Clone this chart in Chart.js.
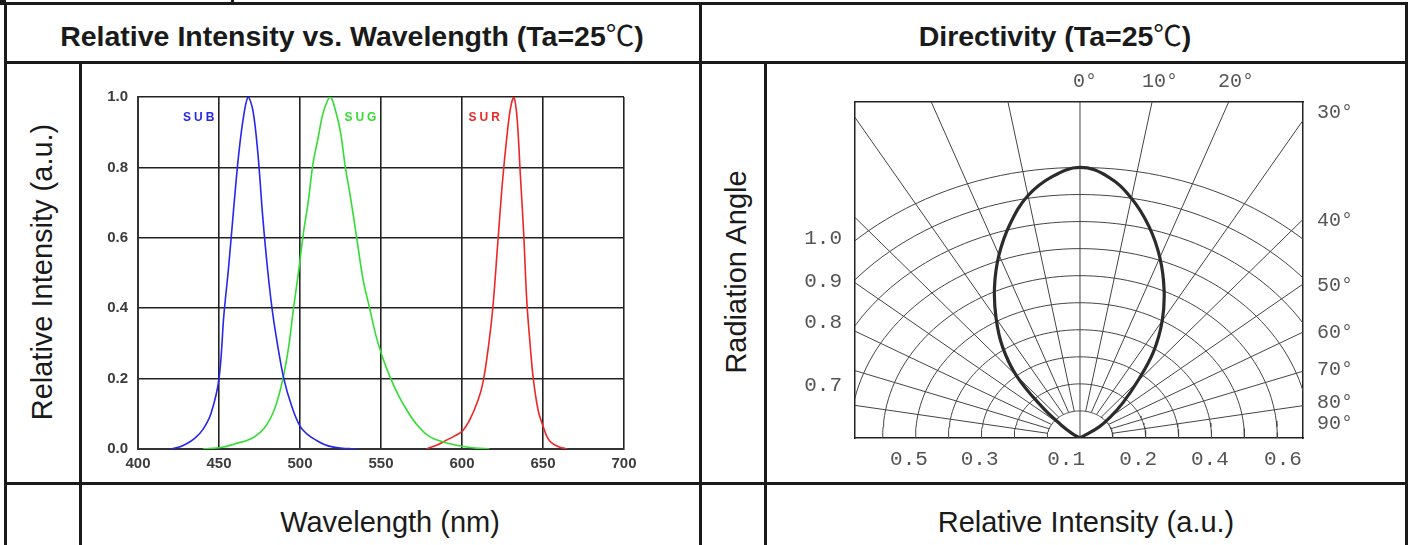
<!DOCTYPE html>
<html lang="en">
<head>
<meta charset="UTF-8">
<title>LED Optical Characteristics</title>
<script src="https://cdn.jsdelivr.net/npm/chart.js"></script>
<style>
  body { margin: 0; width: 1413px; height: 545px; background: #fff; position: relative; overflow: hidden;
         font-family: "Liberation Sans", Arial, "Noto Sans CJK SC", sans-serif; color: #1a1a1a; }
  .line { position: absolute; background: #1a1a1a; }
  .txt { position: absolute; white-space: nowrap; transform: translate(-50%, -50%); }
  .title { font-weight: bold; font-size: 28.5px; }
  .title span { font-weight: normal; }
  .lab { font-size: 29px; }
  .rot { transform: translate(-50%, -50%) rotate(-90deg); }
  canvas { position: absolute; }
</style>
</head>
<body>
    <!-- table frame -->
    <div class="line" style="left:0;top:0;width:6px;height:5px"></div>
    <div class="line" style="left:231px;top:0;width:3px;height:4px"></div>
    <div class="line" style="left:4px;top:2px;width:1404px;height:3px"></div>
    <div class="line" style="left:4px;top:2px;width:3px;height:543px"></div>
    <div class="line" style="left:1405px;top:2px;width:3px;height:543px"></div>
    <div class="line" style="left:4px;top:61px;width:1404px;height:3px"></div>
    <div class="line" style="left:699px;top:2px;width:3px;height:543px"></div>
    <div class="line" style="left:4px;top:482px;width:1404px;height:3px"></div>
    <div class="line" style="left:79px;top:62px;width:3px;height:483px"></div>
    <div class="line" style="left:764px;top:62px;width:3px;height:483px"></div>

    <div class="txt title" style="left:352px;top:33px">Relative Intensity vs. Wavelength (Ta=25<span>℃</span>)</div>
    <div class="txt title" style="left:1055px;top:33px">Directivity (Ta=25<span>℃</span>)</div>
    <div class="txt lab rot" style="left:42px;top:272px">Relative Intensity (a.u.)</div>
    <div class="txt lab rot" style="left:736px;top:272px">Radiation Angle</div>
    <div class="txt lab" style="left:390px;top:522px">Wavelength (nm)</div>
    <div class="txt lab" style="left:1086px;top:522px">Relative Intensity (a.u.)</div>

    <canvas id="spectrumChart" width="616" height="418" style="left:82px;top:64px"></canvas>
    <canvas id="directivityChart" width="638" height="418" style="left:767px;top:64px"></canvas>

<script>
// --- espectro (esquerda) ---
const wavelengthTicks = [400, 450, 500, 550, 600, 650, 700];
const intensityTicks = [0, 0.2, 0.4, 0.6, 0.8, 1.0];
const intensityTickLabels = ['0.0', '0.2', '0.4', '0.6', '0.8', '1.0'];

const subWavelength = [420, 425, 430, 435, 440, 445, 450, 453, 456, 459, 462, 465, 468, 471, 474, 477, 480, 483, 486, 490, 495, 500, 505, 510, 515, 520, 525, 530, 536];
const subIntensity  = [0, 0.005, 0.015, 0.03, 0.055, 0.1, 0.2, 0.38, 0.52, 0.68, 0.83, 0.94, 1.0, 0.96, 0.84, 0.66, 0.51, 0.39, 0.3, 0.2, 0.12, 0.065, 0.04, 0.025, 0.013, 0.006, 0.003, 0.001, 0];

const sugWavelength = [440, 452, 460, 470, 478, 484, 489, 493, 496, 499, 502, 505, 508, 511, 514, 517, 519, 522, 525, 528, 531, 535, 539, 543, 547, 551, 556, 561, 566, 572, 580, 590, 600, 608, 617];
const sugIntensity  = [0, 0.005, 0.015, 0.03, 0.06, 0.11, 0.19, 0.29, 0.4, 0.5, 0.61, 0.7, 0.81, 0.88, 0.95, 0.99, 1.0, 0.96, 0.9, 0.8, 0.72, 0.6, 0.48, 0.4, 0.32, 0.26, 0.2, 0.15, 0.11, 0.07, 0.035, 0.018, 0.008, 0.003, 0];

const surWavelength = [578, 585, 590, 595, 600, 605, 610, 613, 616, 619, 622, 625, 628, 630, 632, 634, 636, 638, 640, 642, 644, 647, 650, 653, 656, 660, 665];
const surIntensity  = [0, 0.012, 0.024, 0.036, 0.05, 0.085, 0.14, 0.19, 0.28, 0.4, 0.58, 0.76, 0.9, 0.97, 1.0, 0.94, 0.78, 0.62, 0.42, 0.3, 0.2, 0.11, 0.065, 0.03, 0.015, 0.006, 0];

const seriesNames  = ['SUB', 'SUG', 'SUR'];
const seriesColors = ['#2626ee', '#33dd33', '#ee2626'];

// --- diretividade (direita) ---
const beamAngle     = [-60, -55, -50, -45, -40, -35, -30, -25, -20, -15, -10, -5, 0, 5, 10, 15, 20, 25, 30, 35, 40, 45, 50, 55, 60];
const beamIntensity = [0, 0.03, 0.075, 0.165, 0.3, 0.41, 0.51, 0.615, 0.72, 0.82, 0.91, 0.97, 1.0, 0.97, 0.9, 0.81, 0.71, 0.605, 0.5, 0.39, 0.27, 0.185, 0.12, 0.07, 0];
const ringRadii   = [1, 2, 3, 4, 5, 6, 7, 8, 9, 10];
const spokeAngles = [-80, -70, -60, -50, -40, -30, -20, -10, 0, 10, 20, 30, 40, 50, 60, 70, 80];

const bottomTickPos    = [-5.2, -3.05, -0.42, 1.77, 3.95, 6.17];
const bottomTickLabels = ['0.5', '0.3', '0.1', '0.2', '0.4', '0.6'];
const topTickPos       = [0.15, 2.43, 4.74];
const topTickLabels    = ['0°', '10°', '20°'];
const leftTickPos      = [7.36, 5.77, 4.29, 1.95];
const leftTickLabels   = ['1.0', '0.9', '0.8', '0.7'];
const rightTickPos     = [12.02, 8.02, 5.62, 3.91, 2.51, 1.32, 0.54];
const rightTickLabels  = ['30°', '40°', '50°', '60°', '70°', '80°', '90°'];

function pairs(xs, ys) {
    return xs.map((v, i) => ({ x: v, y: ys[i] }));
}

function fixedTicks(values) {
    return scale => { scale.ticks = values.map(v => ({ value: v })); };
}

// nomes das curvas (SUB / SUG / SUR)
const seriesLabelPlugin = {
    id: 'seriesLabels',
    afterDatasetsDraw(chart) {
        const { ctx, scales: { x, y } } = chart;
        const at = [449, 549, 604];
        const align = ['right', 'right', 'left'];
        ctx.save();
        ctx.font = 'bold 12px "Liberation Sans", Arial, sans-serif';
        if ('letterSpacing' in ctx) ctx.letterSpacing = '3px';
        ctx.textBaseline = 'middle';
        seriesNames.forEach((name, i) => {
            ctx.fillStyle = seriesColors[i];
            ctx.textAlign = align[i];
            ctx.fillText(name, x.getPixelForValue(at[i]), y.getPixelForValue(0.94));
        });
        ctx.restore();
    }
};

const tickFont = { family: '"Liberation Sans", Arial, sans-serif', size: 15, weight: 'bold' };

new Chart(document.getElementById('spectrumChart'), {
    type: 'line',
    data: {
        datasets: [
            { label: 'SUB', data: pairs(subWavelength, subIntensity) },
            { label: 'SUG', data: pairs(sugWavelength, sugIntensity) },
            { label: 'SUR', data: pairs(surWavelength, surIntensity) }
        ].map((d, i) => Object.assign(d, {
            borderColor: seriesColors[i], borderWidth: 1.6, pointRadius: 0, tension: 0.35, fill: false
        }))
    },
    options: {
        responsive: false,
        animation: false,
        layout: { padding: { top: 33, right: 74, bottom: 0, left: 0 } },
        plugins: { legend: { display: false }, tooltip: { enabled: false } },
        scales: {
            x: {
                type: 'linear', min: 400, max: 700,
                afterBuildTicks: fixedTicks(wavelengthTicks),
                afterFit: s => { s.height = 33; },
                grid: { color: '#222', lineWidth: 1.6, drawTicks: false },
                border: { color: '#333', width: 2 },
                ticks: { autoSkip: false, maxRotation: 0, padding: 6, color: '#3c3c3c', font: tickFont }
            },
            y: {
                type: 'linear', min: 0, max: 1,
                afterBuildTicks: fixedTicks(intensityTicks),
                afterFit: s => { s.width = 56; },
                grid: { color: '#222', lineWidth: 1.6, drawTicks: false },
                border: { color: '#333', width: 2 },
                ticks: { autoSkip: false, padding: 10, color: '#3c3c3c', font: tickFont,
                         callback: (v, i) => intensityTickLabels[i] }
            }
        }
    },
    plugins: [seriesLabelPlugin]
});

// grade polar
const gridSets = [];
ringRadii.forEach(r => {
    const pts = [];
    for (let a = -90; a <= 90; a += 2) {
        const t = a * Math.PI / 180;
        pts.push({ x: r * Math.sin(t), y: r * Math.cos(t) });
    }
    gridSets.push(pts);
});
spokeAngles.forEach(a => {
    const t = a * Math.PI / 180;
    const r0 = a === 0 ? 0 : 1;
    gridSets.push([{ x: r0 * Math.sin(t), y: r0 * Math.cos(t) }, { x: 20 * Math.sin(t), y: 20 * Math.cos(t) }]);
});

const beamPoints = beamAngle.map((a, i) => {
    const t = a * Math.PI / 180;
    const r = beamIntensity[i] * 10;
    return { x: r * Math.sin(t), y: r * Math.cos(t) };
});

const monoFont = { family: '"Liberation Mono", "DejaVu Sans Mono", monospace', size: 21 };
const degFont = { family: '"Liberation Mono", "DejaVu Sans Mono", monospace', size: 20 };
const xRange = { min: -6.84, max: 6.78 };
const yRange = { min: 0, max: 12.42 };
const frame = { color: '#222', width: 1.5 };

new Chart(document.getElementById('directivityChart'), {
    type: 'scatter',
    data: {
        datasets: [
            { data: beamPoints, borderColor: '#2b2b2b', borderWidth: 3.2, tension: 0.4 }
        ].concat(gridSets.map(pts => ({ data: pts, borderColor: '#444', borderWidth: 1, tension: 0 })))
         .map(d => Object.assign(d, { showLine: true, pointRadius: 0, fill: false }))
    },
    options: {
        responsive: false,
        animation: false,
        layout: { padding: 0 },
        plugins: { legend: { display: false }, tooltip: { enabled: false } },
        scales: {
            x: {
                type: 'linear', position: 'bottom', ...xRange,
                afterBuildTicks: fixedTicks(bottomTickPos),
                afterFit: s => { s.height = 44; },
                grid: { display: false, drawTicks: false }, border: frame,
                ticks: { autoSkip: false, maxRotation: 0, padding: 9, color: '#555', font: monoFont,
                         callback: (v, i) => bottomTickLabels[i] }
            },
            x2: {
                type: 'linear', position: 'top', ...xRange,
                afterBuildTicks: fixedTicks(topTickPos),
                afterFit: s => { s.height = 38; },
                grid: { display: false, drawTicks: false }, border: frame,
                ticks: { autoSkip: false, maxRotation: 0, padding: 8, color: '#555', font: degFont,
                         callback: (v, i) => topTickLabels[i] }
            },
            y: {
                type: 'linear', position: 'left', ...yRange,
                afterBuildTicks: fixedTicks(leftTickPos),
                afterFit: s => { s.width = 88; },
                grid: { display: false, drawTicks: false }, border: frame,
                ticks: { autoSkip: false, padding: 13, color: '#555', font: monoFont,
                         callback: (v, i) => leftTickLabels[i] }
            },
            y2: {
                type: 'linear', position: 'right', ...yRange,
                afterBuildTicks: fixedTicks(rightTickPos),
                afterFit: s => { s.width = 102; },
                grid: { display: false, drawTicks: false }, border: frame,
                ticks: { autoSkip: false, padding: 14, color: '#555', font: degFont,
                         callback: (v, i) => rightTickLabels[i] }
            }
        }
    }
});
</script>
</body>
</html>
